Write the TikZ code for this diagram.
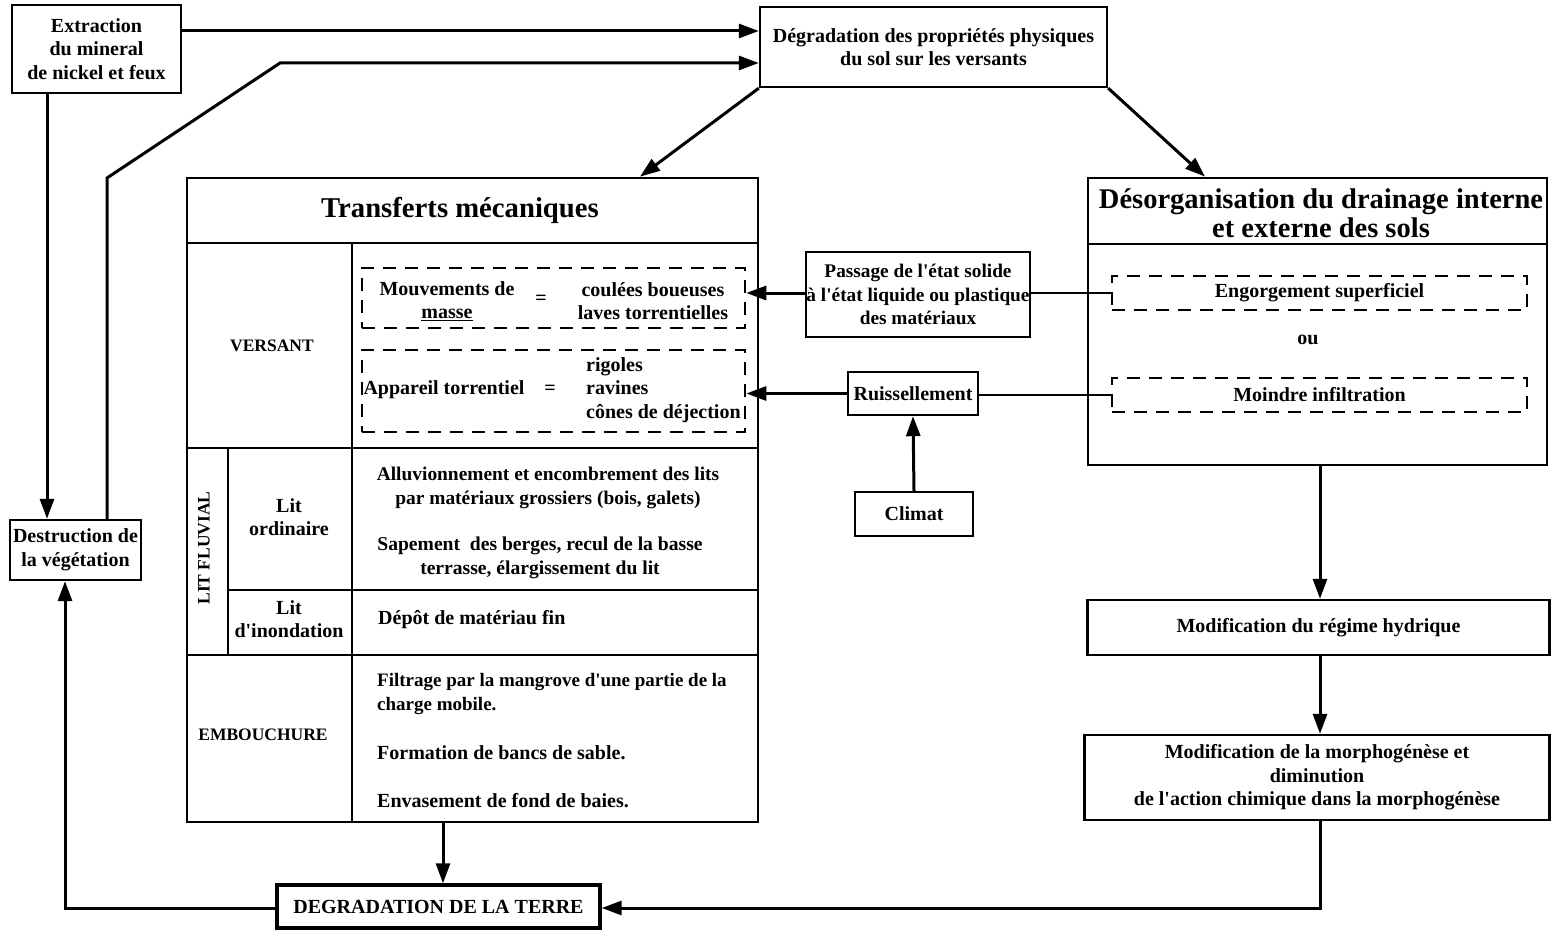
\documentclass[tikz,border=0pt]{standalone}
\usepackage{fontspec}
\setmainfont{Liberation Serif}
\usetikzlibrary{arrows.meta,calc}
\newcommand{\apo}{\textquotesingle}
\begin{document}
\begin{tikzpicture}[x=1pt,y=-1pt,
  box/.style={draw, line width=2.4pt, fill=white, align=center, inner sep=0pt, font=\bfseries\fontsize{20}{23.5}\selectfont},
  txt/.style={align=center, inner sep=0pt, font=\bfseries\fontsize{20}{23.5}\selectfont},
  dbox/.style={draw, line width=2.6pt, dash pattern=on 13pt off 9pt, inner sep=0pt, align=center, font=\bfseries\fontsize{20}{23.5}\selectfont},
  arr/.style={line width=3pt, -{Triangle[length=20pt,width=14pt]}},
  ln/.style={line width=2.6pt},
  grid/.style={line width=2.6pt}]
\useasboundingbox (0,0) rectangle (1551,931);

% top boxes
\node[box, minimum width=169, minimum height=88] (ext) at (96.5,49) {Extraction\\du mineral\\de nickel et feux};
\node[box, minimum width=347, minimum height=80] (deg) at (933.5,47) {Dégradation des propriétés physiques\\du sol sur les versants};
\node[box, minimum width=131, minimum height=60] (destr) at (75.5,550) {Destruction de\\la végétation};

% Transferts table
\node[draw, line width=2.6pt, minimum width=571, minimum height=644, inner sep=0pt] (trans) at (472.5,500) {};
\node[txt, font=\bfseries\fontsize{28.7}{30}\selectfont] (ttitle) at (460,210) {Transferts mécaniques};
\draw[grid] (trans.west |- 0,243) -- (trans.east |- 0,243);
\draw[grid] (352,243) -- (352,822);
\draw[grid] (trans.west |- 0,448) -- (trans.east |- 0,448);
\draw[grid] (228,448) -- (228,655);
\draw[grid] (228,590) -- (trans.east |- 0,590);
\draw[grid] (trans.west |- 0,655) -- (trans.east |- 0,655);

\node[txt, font=\bfseries\fontsize{17.5}{20}\selectfont] (versant) at (272,346) {VERSANT};
\node[txt, font=\bfseries\fontsize{17.5}{20}\selectfont] (embouch) at (263,735) {EMBOUCHURE};
\node[txt, font=\bfseries\fontsize{17.5}{20}\selectfont, rotate=90] (litfl) at (204,548) {LIT FLUVIAL};
\node[txt] (litord) at (289,517) {Lit\\ordinaire};
\node[txt] (litinon) at (289,619) {Lit\\d\apo inondation};

\node[dbox, minimum width=383, minimum height=60] (d1) at (553.5,298) {};
\node[dbox, minimum width=383, minimum height=82] (d2) at (553.5,391) {};
\node[txt] (mouv) at (447,301) {Mouvements de\\\underline{masse}};
\node[txt] (eq1) at (541,300) {=};
\node[txt] (coul) at (653,301) {coulées boueuses\\laves torrentielles};
\node[txt] (appar) at (444,390) {Appareil torrentiel};
\node[txt] (eq2) at (550,390) {=};
\node[txt, align=left, anchor=west] (rig) at (586,390) {rigoles\\ravines\\cônes de déjection};

\node[txt, font=\bfseries\fontsize{19.4}{23.5}\selectfont] (alluv) at (548,488) {Alluvionnement et encombrement des lits\\par matériaux grossiers (bois, galets)};
\node[txt, font=\bfseries\fontsize{19.6}{23.5}\selectfont] (sapem) at (540,558) {Sapement\ \ des berges, recul de la basse\\terrasse, élargissement du lit};
\node[txt, anchor=west] (depot) at (378,620) {Dépôt de matériau fin};
\node[txt, align=left, anchor=west, font=\bfseries\fontsize{19}{23.5}\selectfont] (filtr) at (377,694) {Filtrage par la mangrove d\apo une partie de la\\charge mobile.};
\node[txt, anchor=west] (form) at (377,753) {Formation de bancs de sable.};
\node[txt, anchor=west] (envas) at (377,801) {Envasement de fond de baies.};

% right side
\node[draw, line width=2.6pt, minimum width=459, minimum height=287, inner sep=0pt] (desorg) at (1317.5,321.5) {};
\draw[grid] (desorg.west |- 0,244) -- (desorg.east |- 0,244);
\node[txt, font=\bfseries\fontsize{28.5}{29}\selectfont] (dtitle) at (1321,213) {Désorganisation du drainage interne\\et externe des sols};
\node[dbox, minimum width=415, minimum height=34] (eng) at (1319.5,293) {Engorgement superficiel};
\node[txt] (ou) at (1308,340) {ou};
\node[dbox, minimum width=415, minimum height=34] (moin) at (1319.5,395) {Moindre infiltration};

\node[box, minimum width=224, minimum height=85, font=\bfseries\fontsize{19.3}{23.5}\selectfont] (pass) at (918,294.5) {Passage de l\apo état solide\\à l\apo état liquide ou plastique\\des matériaux};
\node[box, minimum width=130, minimum height=43] (ruis) at (913,393.5) {Ruissellement};
\node[box, minimum width=118, minimum height=44] (clim) at (914,514) {Climat};

\node[box, minimum width=462, minimum height=55] (regime) at (1318.5,627.5) {Modification du régime hydrique};
\node[box, minimum width=465, minimum height=85] (morpho) at (1317,777.5) {Modification de la morphogénèse et\\diminution\\de l\apo action chimique dans la morphogénèse};

\node[box, line width=3.4pt, minimum width=323, minimum height=43] (terre) at (438.5,906.5) {DEGRADATION DE LA TERRE};

% connectors
\draw[arr] (ext.east |- 0,31) -- (deg.west |- 0,31);
\draw[arr] (destr.north -| 107,0) -- (107,178) -- (280,63) -- (deg.west |- 0,63);
\draw[arr] (ext.south -| 47,0) -- (destr.north -| 47,0);
\draw[arr] (deg.south west) -- (trans.north -| 640,0);
\draw[arr] (deg.south east) -- (desorg.north -| 1205,0);
\draw[arr] (trans.south -| 443,0) -- (terre.north -| 443,0);
\draw[arr] (morpho.south -| 1320,0) -- (1320,908) -- (terre.east |- 0,908);
\draw[arr] (terre.west |- 0,908) -- (65,908) -- (destr.south -| 65,0);
\draw[ln] (eng.west) -- (pass.east |- eng.west);
\draw[arr] (pass.west |- 0,293) -- (d1.east |- 0,293);
\draw[ln] (moin.west) -- (ruis.east |- moin.west);
\draw[arr] (ruis.west) -- (d2.east |- ruis.west);
\draw[arr] (clim.north) -- (ruis.south);
\draw[arr] (desorg.south -| 1320,0) -- (regime.north -| 1320,0);
\draw[arr] (regime.south -| 1320,0) -- (morpho.north -| 1320,0);
\end{tikzpicture}
\end{document}
